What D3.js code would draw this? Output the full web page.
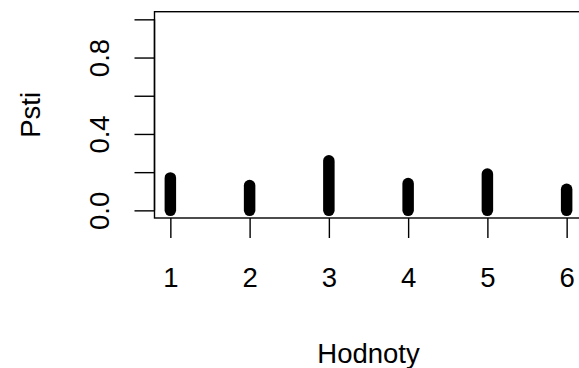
<!DOCTYPE html>
<html><head><meta charset="utf-8">
<script src="https://cdn.jsdelivr.net/npm/d3@7"></script>
<style>body{margin:0;background:#fff}svg{display:block}text{font-family:"Liberation Sans",Arial,sans-serif;fill:#000}</style>
</head><body>
<script>
const categories = [1, 2, 3, 4, 5, 6];
const probabilities = [0.17, 0.13, 0.26, 0.14, 0.19, 0.11];
const yTicks = [0, 0.2, 0.4, 0.6, 0.8, 1.0];
const yTickLabels = ["0.0", "", "0.4", "", "0.8", ""];
const xLabel = "Hodnoty";
const yLabel = "Psti";

const W = 579, H = 368;
const FS = 27.5;
const svg = d3.select("body").append("svg").attr("width", W).attr("height", H);
const plot = {left: 154.5, right: 582.5, top: 11.7, bottom: 218};

const x = d3.scaleLinear().domain([0.8, 6.2]).range([plot.left, plot.right]);
const y = d3.scaleLinear().domain([-0.04, 1.04]).range([plot.bottom, plot.top]);

// box
svg.append("rect").attr("x", plot.left).attr("y", plot.top)
  .attr("width", plot.right - plot.left).attr("height", plot.bottom - plot.top)
  .attr("fill", "none").attr("stroke", "#000").attr("stroke-width", 1.4);

// bars (type = "h")
svg.append("g").selectAll("line").data(categories).join("line")
  .attr("x1", d => x(d)).attr("x2", d => x(d))
  .attr("y1", y(0)).attr("y2", (d, i) => y(probabilities[i]))
  .attr("stroke", "#000").attr("stroke-width", 11.5).attr("stroke-linecap", "round");

// x axis
const xAxis = d3.axisBottom(x).tickValues(categories).tickSize(20).tickFormat(d3.format("d"));
const gx = svg.append("g").attr("transform", `translate(0,${plot.bottom})`).call(xAxis);
gx.select(".domain").remove();
gx.selectAll(".tick line").attr("stroke", "#000").attr("stroke-width", 1.4);
gx.selectAll(".tick text").attr("font-size", FS).attr("font-family", "Liberation Sans, Arial, sans-serif").attr("fill", "#000")
  .attr("y", 69).attr("dy", null);

// y axis
const yAxis = d3.axisLeft(y).tickValues(yTicks).tickSize(20).tickFormat((d, i) => yTickLabels[i]);
const gy = svg.append("g").attr("transform", `translate(${plot.left},0)`).call(yAxis);
gy.select(".domain").attr("d", `M-0,${y(0)}V${y(1)}`).attr("stroke", "#000").attr("stroke-width", 1.4);
gy.selectAll(".tick line").attr("stroke", "#000").attr("stroke-width", 1.4);
gy.selectAll(".tick text")
  .attr("font-size", FS).attr("font-family", "Liberation Sans, Arial, sans-serif").attr("fill", "#000")
  .attr("x", null).attr("dy", null)
  .attr("text-anchor", "middle")
  .attr("transform", "translate(-45.5,0) rotate(-90)");

// axis titles
svg.append("text").attr("x", (plot.left + plot.right) / 2).attr("y", 363)
  .attr("text-anchor", "middle")
  .attr("font-size", FS).text(xLabel);
svg.append("text").attr("transform", `translate(39.5,${(plot.top + plot.bottom) / 2}) rotate(-90)`)
  .attr("text-anchor", "middle")
  .attr("font-size", FS).text(yLabel);
</script>
</body></html>
